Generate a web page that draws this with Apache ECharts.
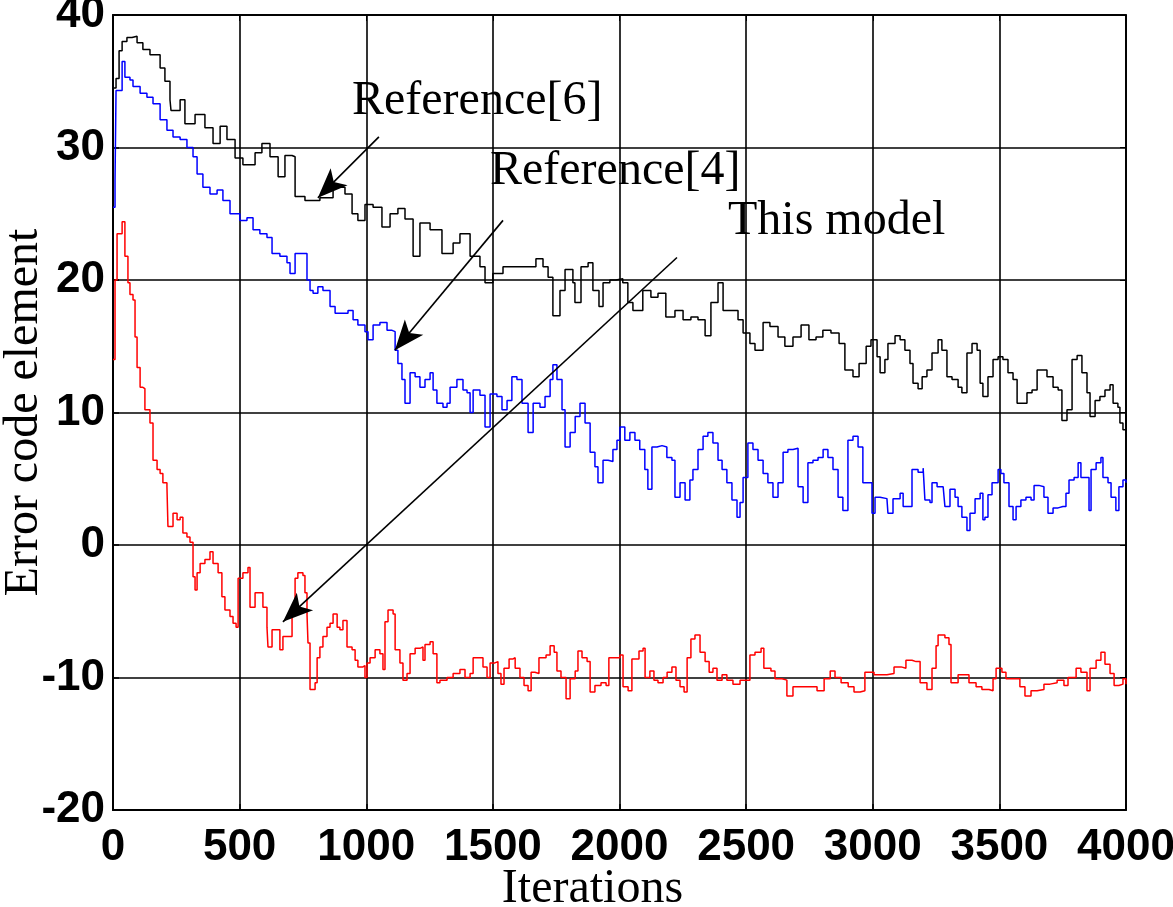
<!DOCTYPE html>
<html>
<head>
<meta charset="utf-8">
<script src="https://cdn.jsdelivr.net/npm/echarts@6/dist/echarts.min.js"></script>
<style>
html,body{margin:0;padding:0;background:#fff;}
#chart{width:1173px;height:907px;}
</style>
</head>
<body>
<div id="chart"></div>
<script>
// ---- Data ----
const xTicks = [0, 500, 1000, 1500, 2000, 2500, 3000, 3500, 4000];
const yTicks = [-20, -10, 0, 10, 20, 30, 40];

// Reference[6] (black)
const ref6X = [0,12,24,36,55,75,95,118,146,186,205,225,229,265,284,324,363,395,423,450,482,513,561,588,620,652,679,707,719,758,817,869,916,944,967,995,1027,1062,1094,1125,1153,1185,1212,1252,1299,1343,1370,1410,1449,1469,1500,1540,1618,1670,1698,1718,1737,1765,1785,1816,1824,1848,1876,1895,1919,1935,1962,1986,2013,2033,2053,2092,2124,2152,2183,2219,2251,2282,2310,2338,2361,2389,2409,2440,2468,2488,2515,2535,2567,2594,2626,2653,2685,2717,2748,2776,2803,2835,2867,2890,2922,2946,2974,2993,3017,3029,3048,3060,3088,3108,3127,3147,3159,3179,3195,3214,3234,3258,3273,3293,3313,3337,3352,3372,3392,3412,3424,3435,3455,3475,3495,3514,3534,3554,3570,3589,3609,3629,3649,3668,3688,3712,3732,3747,3767,3787,3807,3826,3846,3858,3878,3897,3917,3937,3949,3968,3976,3988,4000];
const ref6Y = [34.5,35.2,37.3,38.0,38.3,38.4,37.9,37.4,37.0,36.0,35.0,33.6,32.8,33.6,31.8,32.5,31.5,30.3,31.6,30.6,29.2,28.7,29.6,30.3,29.3,27.8,29.4,29.3,26.3,26.0,26.2,27.0,26.5,25.0,24.5,25.7,25.5,24.0,25.0,25.4,24.6,21.8,24.3,23.8,22.0,22.8,23.5,21.8,21.0,19.8,20.5,21.0,21.0,21.6,21.0,20.2,17.3,19.2,20.8,19.8,18.3,21.0,21.3,19.2,18.0,19.8,20.0,20.1,19.8,18.3,17.7,19.2,18.7,19.0,17.2,17.7,17.0,17.2,17.0,15.8,18.3,19.8,17.7,17.7,17.0,16.0,15.2,14.7,16.8,16.5,15.7,15.0,15.7,16.6,15.5,15.7,16.2,16.0,15.2,13.2,12.7,13.7,15.0,15.5,14.2,13.0,14.0,15.2,15.8,15.5,14.7,13.7,12.2,11.8,12.7,13.2,14.5,15.5,14.7,12.7,12.5,11.9,11.5,14.5,15.2,14.7,12.2,11.2,12.7,14.0,14.2,14.0,13.0,12.5,10.7,10.7,11.5,11.7,13.2,13.2,12.7,11.9,11.7,9.4,10.2,14.0,14.3,13.0,11.5,9.7,10.9,11.2,11.7,12.1,10.7,10.4,9.2,8.7,9.9];

// Reference[4] (blue)
const ref4X = [0,8,12,36,47,67,79,107,134,158,186,213,237,265,292,316,332,355,383,411,434,462,501,529,553,580,608,628,659,687,699,719,750,766,778,790,809,829,857,877,904,928,948,967,995,1007,1027,1054,1082,1102,1114,1125,1141,1153,1173,1193,1212,1232,1252,1264,1279,1303,1319,1331,1358,1382,1398,1410,1422,1449,1469,1489,1516,1536,1556,1575,1595,1615,1639,1659,1686,1706,1726,1737,1753,1773,1785,1805,1825,1844,1864,1884,1903,1915,1935,1955,1974,1990,2002,2021,2041,2061,2080,2100,2112,2128,2148,2168,2187,2207,2219,2239,2259,2278,2290,2310,2330,2349,2369,2389,2405,2424,2444,2464,2476,2488,2507,2527,2547,2567,2586,2606,2626,2646,2665,2685,2705,2725,2744,2764,2784,2804,2823,2843,2863,2882,2902,2922,2942,2950,2961,2977,2997,3009,3029,3056,3060,3080,3108,3120,3147,3155,3179,3199,3206,3226,3234,3254,3278,3285,3305,3325,3337,3352,3372,3384,3404,3424,3435,3443,3455,3471,3495,3506,3518,3538,3554,3566,3585,3605,3625,3637,3656,3676,3692,3712,3732,3751,3763,3775,3795,3811,3822,3842,3854,3862,3882,3901,3909,3929,3941,3960,3972,3988,4000];
const ref4Y = [25.5,27.5,34.3,36.5,35.3,35.1,34.6,34.1,33.8,33.3,32.1,31.3,30.8,30.6,30.0,29.3,28.0,27.0,26.5,26.8,26.0,25.0,24.5,24.7,23.8,23.5,23.2,22.0,21.8,21.3,20.5,22.0,22.0,20.0,19.2,19.0,19.5,19.2,18.0,17.5,17.5,17.7,17.0,16.6,16.1,15.5,16.6,16.8,16.2,16.1,14.7,13.7,12.5,10.7,13.0,12.7,11.9,12.5,13.0,11.7,10.7,10.4,10.7,11.9,12.5,11.7,11.5,10.0,11.7,11.3,8.9,11.4,11.2,10.2,10.9,12.7,12.5,10.7,8.5,10.7,10.4,11.2,12.5,13.6,12.5,10.2,7.4,8.5,9.7,10.7,9.2,7.0,5.9,4.7,6.4,6.3,7.2,7.9,8.9,7.9,8.5,7.9,7.2,5.7,4.2,7.4,7.5,7.4,6.6,6.4,3.6,4.7,3.4,4.9,5.7,7.2,8.2,8.5,7.7,6.4,5.7,4.7,3.4,2.1,3.2,5.1,7.7,7.2,6.4,5.4,4.7,3.6,4.7,7.0,7.2,7.3,4.4,3.2,6.2,6.4,6.6,7.2,6.6,5.7,3.6,2.6,7.9,8.2,7.4,7.4,4.7,4.7,2.4,3.6,3.5,3.5,2.4,3.5,3.9,2.9,2.9,5.7,5.5,5.8,3.4,3.2,4.7,4.4,4.5,2.9,4.2,3.6,2.9,2.1,1.1,2.4,3.5,3.9,1.9,2.1,3.8,4.7,5.7,5.4,4.7,2.9,1.9,2.9,3.4,3.6,3.4,4.5,4.4,3.6,2.4,2.8,2.9,2.9,3.9,4.9,5.1,6.2,5.1,5.1,2.6,5.7,6.2,6.6,5.1,4.7,3.6,2.6,4.4,4.9,4.7];

// This model (red)
const modelX = [0,8,16,36,47,59,67,79,87,95,107,118,126,146,158,174,186,197,213,217,237,253,265,276,292,304,316,324,332,344,363,383,395,415,430,442,462,474,486,494,513,533,541,561,573,592,608,612,628,648,659,671,687,707,719,730,750,758,766,770,778,798,806,817,829,845,857,869,885,896,908,924,944,956,967,987,995,1003,1015,1035,1054,1066,1074,1086,1106,1114,1133,1145,1161,1173,1193,1212,1224,1232,1252,1264,1279,1291,1319,1343,1370,1390,1410,1422,1449,1461,1477,1489,1508,1520,1532,1544,1564,1580,1588,1607,1623,1639,1651,1666,1682,1710,1726,1742,1753,1769,1789,1805,1825,1836,1852,1872,1884,1903,1927,1947,1958,1978,2002,2014,2034,2049,2077,2093,2101,2120,2136,2152,2172,2188,2207,2223,2239,2255,2267,2282,2298,2310,2318,2338,2354,2369,2385,2405,2424,2448,2476,2492,2515,2535,2559,2570,2598,2614,2642,2661,2685,2720,2752,2780,2808,2832,2851,2875,2903,2926,2950,2969,2989,3005,3033,3056,3084,3112,3131,3155,3171,3187,3214,3234,3250,3258,3285,3301,3309,3337,3364,3380,3408,3431,3459,3475,3487,3510,3526,3554,3581,3601,3625,3649,3676,3700,3728,3755,3771,3803,3822,3846,3858,3882,3901,3917,3937,3953,3972,3988,4000];
const modelY = [14.0,20.0,23.5,24.4,21.8,19.8,18.9,18.5,15.7,13.4,11.9,11.8,10.2,9.2,6.4,5.7,5.4,4.7,4.4,1.4,2.4,1.9,2.1,0.9,0.6,0.2,-2.4,-3.4,-2.1,-1.4,-1.1,-0.5,-1.4,-2.1,-3.9,-4.9,-5.4,-5.9,-6.2,-2.5,-2.1,-1.7,-4.7,-3.6,-3.6,-4.7,-6.2,-7.7,-6.4,-6.4,-7.9,-6.9,-6.9,-5.2,-2.5,-2.1,-2.3,-3.6,-5.2,-7.4,-10.9,-10.4,-8.5,-7.7,-6.9,-6.2,-5.9,-5.2,-6.2,-6.4,-5.7,-7.7,-7.9,-8.7,-9.2,-9.1,-10.0,-8.9,-8.5,-7.9,-8.2,-9.4,-5.8,-4.9,-5.2,-7.9,-8.9,-10.2,-9.7,-8.2,-7.8,-7.7,-8.7,-7.5,-7.3,-8.2,-10.4,-10.2,-10.0,-9.7,-9.4,-10.0,-9.7,-8.5,-8.5,-9.2,-10.0,-8.9,-8.8,-9.7,-10.5,-9.3,-8.6,-8.5,-9.3,-10.0,-10.6,-11.0,-9.6,-9.7,-8.5,-8.3,-7.6,-8.1,-9.5,-10.0,-11.6,-10.1,-9.5,-8.0,-8.5,-8.8,-11.1,-10.6,-10.4,-10.6,-8.5,-8.5,-8.3,-10.7,-11.0,-8.6,-8.0,-7.8,-10.0,-9.5,-10.2,-10.4,-10.0,-9.6,-9.2,-10.2,-10.7,-11.1,-8.5,-7.1,-6.8,-6.8,-8.1,-8.8,-9.6,-9.3,-10.2,-9.8,-10.2,-10.5,-10.2,-10.2,-8.3,-8.1,-7.8,-9.3,-9.5,-10.1,-10.2,-11.4,-10.7,-10.7,-10.7,-11.0,-10.1,-9.5,-10.0,-10.4,-10.7,-11.1,-11.0,-9.6,-9.6,-9.8,-9.8,-9.7,-9.2,-9.3,-8.7,-8.8,-8.8,-10.4,-10.9,-9.3,-7.6,-6.8,-7.0,-7.5,-10.4,-9.8,-9.8,-10.4,-10.7,-10.9,-11.0,-10.1,-9.3,-9.6,-10.1,-10.1,-10.7,-11.4,-11.0,-10.9,-10.5,-10.4,-10.2,-10.6,-10.0,-9.3,-9.6,-11.0,-9.3,-8.7,-8.1,-9.0,-9.7,-10.6,-10.5,-10.1,-10.5];

// Annotation arrows: [tail, head] in data coordinates
const arrowRef6 = [[1050, 30.8], [809, 26.2]];
const arrowRef4 = [[1540, 24.5], [1113, 14.7]];
const arrowModel = [[2227, 21.7], [671, -5.8]];
const annotationTexts = ['Reference[6]', 'Reference[4]', 'This model'];

// ---- Chart ----
const zip = (xs, ys) => xs.map((x, i) => [x, ys[i]]);
const chart = echarts.init(document.getElementById('chart'), null, {renderer: 'canvas'});
const tickFont = {fontFamily: '"Liberation Sans", Arial, sans-serif', fontWeight: 'bold', fontSize: 44, color: '#000'};
const serif = '"Liberation Serif", "Times New Roman", serif';

const gridLine = {show: true, lineStyle: {color: '#000', width: 1.6}};
const option = {
  animation: false,
  backgroundColor: '#fff',
  grid: {left: 113, right: 47, top: 15, bottom: 97, show: true, borderColor: '#000', borderWidth: 1.5,
         backgroundColor: 'transparent', containLabel: false, outerBoundsMode: 'none'},
  xAxis: [{
    type: 'value', min: 0, max: 4000, interval: 500,
    axisLine: {show: true, onZero: false, lineStyle: {color: '#000', width: 2}},
    axisTick: {show: true, inside: true, length: 6, lineStyle: {color: '#000', width: 1.5}},
    axisLabel: Object.assign({margin: 16, formatter: v => xTicks.includes(v) ? String(v) : ''}, tickFont),
    splitLine: gridLine,
    name: 'Iterations', nameLocation: 'middle', nameGap: 55, nameMoveOverlap: false,
    nameTextStyle: {fontFamily: serif, fontSize: 48, color: '#000', padding: [0, 54, 0, 0]}
  }, {
    type: 'value', position: 'top', min: 0, max: 4000, interval: 500,
    axisLine: {show: true, onZero: false, lineStyle: {color: '#000', width: 1.5}},
    axisTick: {show: true, inside: true, length: 6, lineStyle: {color: '#000'}},
    axisLabel: {show: false}, splitLine: {show: false}
  }],
  yAxis: [{
    type: 'value', min: -20, max: 40, interval: 10,
    axisLine: {show: true, onZero: false, lineStyle: {color: '#000', width: 2}},
    axisTick: {show: true, inside: true, length: 6, lineStyle: {color: '#000', width: 1.5}},
    axisLabel: Object.assign({margin: 8, formatter: v => yTicks.includes(v) ? String(v) : ''}, tickFont),
    splitLine: gridLine,
    name: 'Error code element', nameLocation: 'middle', nameGap: 65, nameRotate: 90, nameMoveOverlap: false,
    nameTextStyle: {fontFamily: serif, fontSize: 48, color: '#000'}
  }, {
    type: 'value', position: 'right', min: -20, max: 40, interval: 10,
    axisLine: {show: true, onZero: false, lineStyle: {color: '#000', width: 1.5}},
    axisTick: {show: true, inside: true, length: 6, lineStyle: {color: '#000'}},
    axisLabel: {show: false}, splitLine: {show: false}
  }],
  series: [
    {
      name: 'Reference[6]', type: 'line', step: 'end', showSymbol: false, symbol: 'none',
      data: zip(ref6X, ref6Y), lineStyle: {color: '#000', width: 1.5}, itemStyle: {color: '#000'}, z: 3
    },
    {
      name: 'Reference[4]', type: 'line', step: 'end', showSymbol: false, symbol: 'none',
      data: zip(ref4X, ref4Y), lineStyle: {color: '#0000ff', width: 1.5}, itemStyle: {color: '#0000ff'}, z: 3
    },
    {
      name: 'This model', type: 'line', step: 'end', showSymbol: false, symbol: 'none',
      data: zip(modelX, modelY), lineStyle: {color: '#ff0000', width: 1.5}, itemStyle: {color: '#ff0000'}, z: 3,
      markLine: {
        silent: true, animation: false,
        symbol: ['none', 'arrow'], symbolSize: [18, 30],
        label: {show: false},
        lineStyle: {color: '#000', width: 1.6, type: 'solid'},
        itemStyle: {color: '#000'},
        data: [arrowRef6, arrowRef4, arrowModel].map(a => [{coord: a[0]}, {coord: a[1]}])
      }
    }
  ],
  graphic: [
    {type: 'text', left: 352, top: 77, z: 10, style: {text: annotationTexts[0], font: '48px ' + serif, fill: '#000'}},
    {type: 'text', left: 490, top: 147, z: 10, style: {text: annotationTexts[1], font: '48px ' + serif, fill: '#000'}},
    {type: 'text', left: 728, top: 197, z: 10, style: {text: annotationTexts[2], font: '48px ' + serif, fill: '#000'}}
  ]
};
chart.setOption(option);
</script>
</body>
</html>
